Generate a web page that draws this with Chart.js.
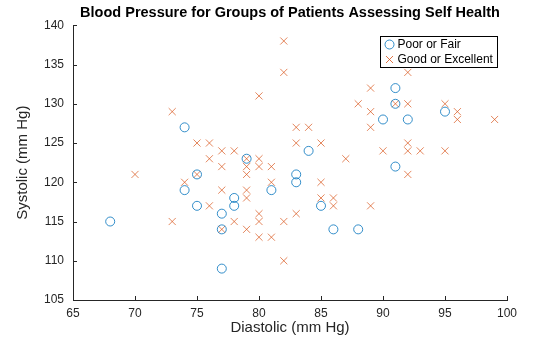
<!DOCTYPE html>
<html>
<head>
<meta charset="utf-8">
<script src="https://cdn.jsdelivr.net/npm/chart.js@4.4.1/dist/chart.umd.min.js"></script>
<style>
  html, body { margin: 0; padding: 0; background: #fff; }
  canvas { display: block; }
</style>
</head>
<body>
<canvas id="bpChart" width="560" height="337"></canvas>
<script>
// Blood pressure readings (mm Hg)
const poorDiastolic = [74, 79, 84, 90, 91, 91, 92, 95, 91, 68, 75, 74, 75, 77, 78, 78, 77, 77, 83, 83, 81, 85, 86, 88];
const poorSystolic  = [127, 123, 124, 128, 132, 130, 128, 129, 122, 115, 121, 119, 117, 116, 118, 117, 114, 109, 121, 120, 119, 117, 114, 114];

const goodDiastolic = [82, 82, 80, 73, 89, 88, 89, 89, 83, 84, 83, 85, 87, 75, 76, 77, 78, 76, 79, 80, 77, 79, 80, 81,
                       92, 91, 92, 95, 96, 96, 99, 92, 90, 92, 93, 95, 92, 70, 73, 75, 74, 77, 76, 78, 77, 79,
                       81, 85, 79, 79, 85, 86, 86, 89, 80, 83, 80, 82, 79, 80, 81, 82];
const goodSystolic  = [138, 134, 131, 129, 132, 130, 129, 127, 127, 127, 125, 125, 123, 125, 125, 124, 124, 123, 123, 123, 122, 122, 122, 122,
                       134, 130, 130, 130, 129, 128, 128, 125, 124, 124, 124, 124, 121, 121, 115, 121, 120, 119, 117, 115, 114, 121,
                       120, 120, 119, 118, 118, 118, 117, 117, 116, 116, 115, 115, 114, 113, 113, 110];

const seriesLabels = ['Poor or Fair', 'Good or Excellent'];
const xTicksRange = [65, 100];
const yTicksRange = [105, 140];

const FONT = "'Liberation Sans', Arial, Helvetica, sans-serif";
const AXIS_COLOR = '#262626';
const BLUE = '#0072BD';
const ORANGE = '#D95319';

function toPoints(xs, ys) {
  return xs.map((x, i) => ({ x: x, y: ys[i] }));
}

// MATLAB style: inward tick marks and a boxed legend inside the axes
const matlabAxes = {
  id: 'matlabAxes',
  afterDraw(chart) {
    const { ctx, chartArea } = chart;
    const xs = chart.scales.x;
    const ys = chart.scales.y;
    ctx.save();
    ctx.strokeStyle = AXIS_COLOR;
    ctx.lineWidth = 1;
    ctx.beginPath();
    xs.ticks.forEach(t => {
      const px = Math.round(xs.getPixelForValue(t.value)) + 0.5;
      ctx.moveTo(px, chartArea.bottom);
      ctx.lineTo(px, chartArea.bottom - 4);
    });
    ys.ticks.forEach(t => {
      const py = Math.round(ys.getPixelForValue(t.value)) + 0.5;
      ctx.moveTo(chartArea.left, py);
      ctx.lineTo(chartArea.left + 4, py);
    });
    ctx.stroke();

    // legend box
    const boxW = 117, boxH = 31;
    const bx = Math.round(chartArea.right - 10 - boxW) + 0.5;
    const by = Math.round(chartArea.top + 11) + 0.5;
    ctx.fillStyle = '#fff';
    ctx.fillRect(bx, by, boxW, boxH);
    ctx.strokeStyle = '#000';
    ctx.lineWidth = 1;
    ctx.strokeRect(bx, by, boxW, boxH);

    ctx.font = '12px ' + FONT;
    ctx.fillStyle = '#000';
    ctx.textBaseline = 'middle';
    ctx.textAlign = 'left';
    chart.data.datasets.forEach((ds, i) => {
      const my = by + 8 + i * 15;
      const mx = bx + 9;
      ctx.strokeStyle = ds.borderColor;
      ctx.lineWidth = 0.8;
      ctx.beginPath();
      if (ds.pointStyle === 'circle') {
        ctx.arc(mx, my, 4.5, 0, Math.PI * 2);
      } else {
        ctx.moveTo(mx - 3.5, my - 3.5); ctx.lineTo(mx + 3.5, my + 3.5);
        ctx.moveTo(mx - 3.5, my + 3.5); ctx.lineTo(mx + 3.5, my - 3.5);
      }
      ctx.stroke();
      ctx.fillText(ds.label, bx + 17, my + 0.5);
    });
    ctx.restore();
  }
};

new Chart(document.getElementById('bpChart').getContext('2d'), {
  type: 'scatter',
  data: {
    datasets: [
      {
        label: seriesLabels[0],
        data: toPoints(poorDiastolic, poorSystolic),
        pointStyle: 'circle',
        pointRadius: 4.5,
        pointHoverRadius: 4.5,
        borderColor: BLUE,
        backgroundColor: 'rgba(0,0,0,0)',
        pointBorderWidth: 0.8
      },
      {
        label: seriesLabels[1],
        data: toPoints(goodDiastolic, goodSystolic),
        pointStyle: 'crossRot',
        pointRadius: 5,
        pointHoverRadius: 5,
        borderColor: ORANGE,
        backgroundColor: ORANGE,
        pointBorderWidth: 0.7
      }
    ]
  },
  options: {
    responsive: false,
    animation: false,
    events: [],
    layout: { padding: { left: 0, right: 53, top: 0, bottom: 0 } },
    plugins: {
      legend: { display: false },
      tooltip: { enabled: false },
      title: {
        display: true,
        fullSize: false,
        text: 'Blood Pressure for Groups of Patients Assessing Self Health',
        color: '#000',
        font: { family: FONT, size: 14.5, weight: 'bold' },
        padding: { top: 4, bottom: 3.9 }
      }
    },
    scales: {
      x: {
        type: 'linear',
        min: xTicksRange[0],
        max: xTicksRange[1],
        afterFit: s => { s.height = 37; },
        ticks: { stepSize: 5, color: AXIS_COLOR, padding: 6, font: { family: FONT, size: 12 } },
        grid: { display: false, drawTicks: false },
        border: { display: true, color: AXIS_COLOR, width: 1 },
        title: {
          display: true,
          text: 'Diastolic (mm Hg)',
          color: AXIS_COLOR,
          font: { family: FONT, size: 15 },
          padding: { top: 0, bottom: 0 }
        }
      },
      y: {
        type: 'linear',
        min: yTicksRange[0],
        max: yTicksRange[1],
        afterFit: s => { s.width = 73; },
        ticks: { stepSize: 5, color: AXIS_COLOR, padding: 9, font: { family: FONT, size: 12 } },
        grid: { display: false, drawTicks: false },
        border: { display: true, color: AXIS_COLOR, width: 1 },
        title: {
          display: true,
          text: 'Systolic (mm Hg)',
          color: AXIS_COLOR,
          font: { family: FONT, size: 15 },
          padding: { top: 14, bottom: 0 }
        }
      }
    }
  },
  plugins: [matlabAxes]
});
</script>
</body>
</html>
